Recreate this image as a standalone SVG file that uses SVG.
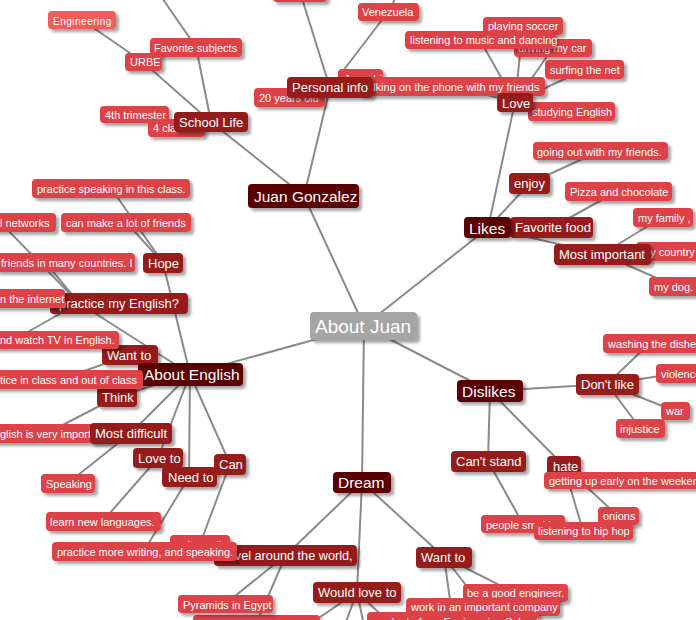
<svg xmlns="http://www.w3.org/2000/svg" width="696" height="620" viewBox="0 0 696 620">
<defs>
<filter id="sh" x="-10%" y="-30%" width="130%" height="180%">
<feDropShadow dx="3" dy="3" stdDeviation="1.4" flood-color="#000" flood-opacity="0.35"/>
</filter>
<style>
.c line{stroke:#8a8a8a;stroke-width:2;stroke-linecap:round}
g.n rect{filter:url(#sh)}
.l4 rect{fill:#f05c5c}
.l3 rect{fill:#dc4246}
.l2 rect{fill:#961b1e}
.l1 rect{fill:#5a0404}
.r rect{fill:#a5a5a5}
text{fill:#fff;font-family:"Liberation Sans",Arial,sans-serif}
.l4 text{font-size:10px;letter-spacing:0.5px}
.l3 text{font-size:11px}
.l2 text{font-size:13px}
.l1 text{font-size:15.5px}
.r text{font-size:19px}
</style>
</defs>
<rect width="696" height="620" fill="#fff"/>
<g class="c" id="connectors">
<line x1="364" y1="326" x2="304" y2="196"/>
<line x1="364" y1="326" x2="488" y2="228"/>
<line x1="364" y1="326" x2="490" y2="391"/>
<line x1="364" y1="326" x2="362" y2="482"/>
<line x1="364" y1="326" x2="190" y2="374"/>
<line x1="304" y1="196" x2="211" y2="122"/>
<line x1="304" y1="196" x2="330" y2="88"/>
<line x1="211" y1="122" x2="196" y2="47"/>
<line x1="211" y1="122" x2="143" y2="62"/>
<line x1="143" y1="62" x2="82" y2="20"/>
<line x1="196" y1="47" x2="160" y2="-5"/>
<line x1="330" y1="88" x2="300" y2="-8"/>
<line x1="330" y1="88" x2="388" y2="12"/>
<line x1="388" y1="12" x2="400" y2="-10"/>
<line x1="488" y1="228" x2="515" y2="102"/>
<line x1="488" y1="228" x2="530" y2="183"/>
<line x1="488" y1="228" x2="602" y2="254"/>
<line x1="515" y1="102" x2="480" y2="40"/>
<line x1="515" y1="102" x2="553" y2="48"/>
<line x1="515" y1="102" x2="523" y2="26"/>
<line x1="515" y1="102" x2="584" y2="70"/>
<line x1="515" y1="102" x2="451" y2="86"/>
<line x1="515" y1="102" x2="571" y2="111"/>
<line x1="530" y1="183" x2="600" y2="151"/>
<line x1="551" y1="228" x2="618" y2="191"/>
<line x1="602" y1="254" x2="663" y2="217"/>
<line x1="602" y1="254" x2="675" y2="286"/>
<line x1="490" y1="391" x2="607" y2="384"/>
<line x1="490" y1="391" x2="488" y2="461"/>
<line x1="490" y1="391" x2="564" y2="466"/>
<line x1="607" y1="384" x2="650" y2="343"/>
<line x1="607" y1="384" x2="680" y2="373"/>
<line x1="607" y1="384" x2="675" y2="411"/>
<line x1="607" y1="384" x2="640" y2="428"/>
<line x1="488" y1="461" x2="523" y2="524"/>
<line x1="564" y1="466" x2="618" y2="516"/>
<line x1="564" y1="466" x2="583" y2="531"/>
<line x1="362" y1="482" x2="286" y2="555"/>
<line x1="362" y1="482" x2="357" y2="592"/>
<line x1="362" y1="482" x2="444" y2="557"/>
<line x1="444" y1="557" x2="515" y2="593"/>
<line x1="444" y1="557" x2="483" y2="607"/>
<line x1="444" y1="557" x2="453" y2="621"/>
<line x1="357" y1="592" x2="301" y2="630"/>
<line x1="357" y1="592" x2="343" y2="630"/>
<line x1="357" y1="592" x2="365" y2="630"/>
<line x1="357" y1="592" x2="397" y2="630"/>
<line x1="286" y1="555" x2="225" y2="604"/>
<line x1="286" y1="555" x2="256" y2="624"/>
<line x1="230" y1="464" x2="200" y2="544"/>
<line x1="189" y1="477" x2="144" y2="551"/>
<line x1="158" y1="458" x2="103" y2="521"/>
<line x1="131" y1="433" x2="68" y2="483"/>
<line x1="190" y1="374" x2="131" y2="433"/>
<line x1="190" y1="374" x2="158" y2="458"/>
<line x1="190" y1="374" x2="189" y2="477"/>
<line x1="190" y1="374" x2="230" y2="464"/>
<line x1="190" y1="374" x2="117" y2="397"/>
<line x1="190" y1="374" x2="130" y2="355"/>
<line x1="190" y1="374" x2="163" y2="263"/>
<line x1="190" y1="374" x2="79" y2="303"/>
<line x1="163" y1="263" x2="111" y2="188"/>
<line x1="163" y1="263" x2="126" y2="222"/>
<line x1="79" y1="303" x2="-5" y2="217"/>
<line x1="79" y1="303" x2="45" y2="262"/>
<line x1="79" y1="303" x2="10" y2="342"/>
<line x1="117" y1="397" x2="47" y2="433"/>
<line x1="130" y1="355" x2="58" y2="380"/>
</g>

<g class="n l3" id="n-top"><rect x="273" y="-16" width="54" height="18" rx="4"/></g>
<g class="n l4" id="n-engineering"><rect x="48" y="11" width="68" height="18" rx="4"/><text x="53" y="24.5">Engineering</text></g>
<g class="n l3" id="n-favsubjects"><rect x="150" y="38" width="92" height="19" rx="4"/><text x="154" y="52">Favorite subjects</text></g>
<g class="n l3" id="n-urbe"><rect x="125" y="53" width="37" height="18" rx="4"/><text x="130" y="66">URBE</text></g>
<g class="n l3" id="n-4th"><rect x="100" y="106" width="69" height="17" rx="4"/><text x="105" y="119">4th trimester</text></g>
<g class="n l3" id="n-4classes"><rect x="148" y="119" width="57" height="18" rx="4"/><text x="153" y="132">4 classes</text></g>
<g class="n l2" id="n-school"><rect x="174" y="112" width="74" height="20" rx="4"/><text x="179" y="127">School Life</text></g>

<g class="n l3" id="n-juanchi"><rect x="338" y="69" width="45" height="18" rx="4"/><text x="344" y="83">Juanchi</text></g>
<g class="n l3" id="n-20"><rect x="254" y="88" width="71" height="19" rx="4"/><text x="259" y="102">20 years old</text></g>
<g class="n l3" id="n-talking"><rect x="358" y="77" width="187" height="19" rx="4"/><text x="364" y="91">talking on the phone with my friends</text></g>
<g class="n l2" id="n-personal"><rect x="287" y="77" width="86" height="21" rx="4"/><text x="292" y="92">Personal info</text></g>
<g class="n l3" id="n-venezuela"><rect x="358" y="3" width="61" height="18" rx="4"/><text x="362" y="16">Venezuela</text></g>

<g class="n l3" id="n-driving"><rect x="514" y="39" width="78" height="18" rx="4"/><text x="518" y="52">driving my car</text></g>
<g class="n l3" id="n-soccer"><rect x="483" y="17" width="80" height="18" rx="4"/><text x="488" y="30">playing soccer</text></g>
<g class="n l3" id="n-listening"><rect x="405" y="31" width="150" height="18" rx="4"/><text x="410" y="44">listening to music and dancing</text></g>
<g class="n l3" id="n-surfing"><rect x="545" y="60" width="79" height="19" rx="4"/><text x="550" y="74">surfing the net</text></g>
<g class="n l3" id="n-studying"><rect x="528" y="102" width="87" height="19" rx="4"/><text x="532" y="116">studying English</text></g>
<g class="n l2" id="n-love"><rect x="497" y="93" width="36" height="19" rx="4"/><text x="502" y="108">Love</text></g>

<g class="n l3" id="n-goingout"><rect x="533" y="142" width="135" height="18" rx="4"/><text x="537" y="156">going out with my friends.</text></g>
<g class="n l2" id="n-enjoy"><rect x="509" y="173" width="41" height="21" rx="4"/><text x="514" y="188">enjoy</text></g>
<g class="n l3" id="n-pizza"><rect x="565" y="182" width="107" height="19" rx="4"/><text x="570" y="196">Pizza and chocolate</text></g>
<g class="n l3" id="n-family"><rect x="633" y="208" width="60" height="19" rx="4"/><text x="638" y="222">my family ,</text></g>
<g class="n l3" id="n-country"><rect x="636" y="242" width="65" height="19" rx="4"/><text x="641" y="256">my country</text></g>
<g class="n l3" id="n-dog"><rect x="649" y="277" width="52" height="19" rx="4"/><text x="654" y="291">my dog.</text></g>
<g class="n l2" id="n-food"><rect x="510" y="217" width="83" height="21" rx="4"/><text x="515" y="232">Favorite food</text></g>
<g class="n l1" id="n-likes"><rect x="464" y="217" width="47" height="21" rx="4"/><text x="469" y="234">Likes</text></g>
<g class="n l2" id="n-mostimportant"><rect x="554" y="244" width="97" height="21" rx="4"/><text x="559" y="259">Most important</text></g>

<g class="n l3" id="n-washing"><rect x="603" y="334" width="100" height="19" rx="4"/><text x="608" y="348">washing the dishes</text></g>
<g class="n l3" id="n-violence"><rect x="656" y="364" width="45" height="19" rx="4"/><text x="661" y="378">violence</text></g>
<g class="n l3" id="n-war"><rect x="661" y="402" width="29" height="18" rx="4"/><text x="666" y="415">war</text></g>
<g class="n l3" id="n-injustice"><rect x="616" y="419" width="49" height="19" rx="4"/><text x="620" y="433">injustice</text></g>
<g class="n l2" id="n-dontlike"><rect x="576" y="374" width="63" height="21" rx="4"/><text x="581" y="389">Don't like</text></g>
<g class="n l1" id="n-dislikes"><rect x="457" y="380" width="66" height="22" rx="4"/><text x="462" y="397">Dislikes</text></g>
<g class="n l2" id="n-cantstand"><rect x="451" y="451" width="75" height="21" rx="4"/><text x="456" y="466">Can't stand</text></g>
<g class="n l2" id="n-hate"><rect x="547" y="456" width="34" height="19" rx="4"/><text x="553" y="471">hate</text></g>
<g class="n l3" id="n-gettingup"><rect x="544" y="472" width="160" height="17" rx="4"/><text x="549" y="485">getting up early on the weekend</text></g>
<g class="n l3" id="n-onions"><rect x="598" y="507" width="41" height="18" rx="4"/><text x="603" y="520">onions</text></g>
<g class="n l3" id="n-smoking"><rect x="481" y="515" width="84" height="18" rx="4"/><text x="486" y="529">people smoking</text></g>
<g class="n l3" id="n-hiphop"><rect x="534" y="522" width="99" height="18" rx="4"/><text x="538" y="535">listening to hip hop</text></g>

<g class="n l3" id="n-engineer"><rect x="463" y="584" width="105" height="18" rx="4"/><text x="467" y="597">be a good engineer.</text></g>
<g class="n l3" id="n-company"><rect x="406" y="598" width="154" height="18" rx="4"/><text x="411" y="611">work in an important company</text></g>
<g class="n l3" id="n-graduate"><rect x="367" y="612" width="172" height="18" rx="4"/><text x="372" y="625.5">graduate from Engineering School</text></g>
<g class="n l2" id="n-wantto-d"><rect x="416" y="547" width="56" height="21" rx="4"/><text x="421" y="562">Want to</text></g>
<g class="n l2" id="n-wouldlove"><rect x="313" y="582" width="88" height="21" rx="4"/><text x="318" y="597">Would love to</text></g>
<g class="n l3" id="n-low"><rect x="193" y="615" width="127" height="18" rx="4"/></g>
<g class="n l3" id="n-pyramids"><rect x="178" y="595" width="95" height="18" rx="4"/><text x="183" y="609">Pyramids in Egypt</text></g>
<g class="n l3" id="n-writewell"><rect x="170" y="535" width="60" height="18" rx="4"/><text x="176" y="548.5">write well</text></g>
<g class="n l2" id="n-travel"><rect x="214" y="545" width="143" height="21" rx="4"/><text x="220" y="560" style="font-size:12.7px">travel around the world,</text></g>
<g class="n l3" id="n-practicemore"><rect x="52" y="542" width="185" height="19" rx="4"/><text x="57" y="556">practice more writing, and speaking.</text></g>

<g class="n l2" id="n-loveto"><rect x="133" y="448" width="50" height="20" rx="4"/><text x="138" y="463">Love to</text></g>
<g class="n l2" id="n-needto"><rect x="162" y="467" width="55" height="20" rx="4"/><text x="168" y="482">Need to</text></g>
<g class="n l2" id="n-can"><rect x="214" y="454" width="32" height="21" rx="4"/><text x="219" y="469">Can</text></g>
<g class="n l3" id="n-speaking"><rect x="41" y="474" width="54" height="19" rx="4"/><text x="46" y="488">Speaking</text></g>
<g class="n l3" id="n-learn"><rect x="46" y="512" width="115" height="19" rx="4"/><text x="50" y="526">learn new languages.</text></g>
<g class="n l3" id="n-important"><rect x="-18" y="424" width="130" height="19" rx="4"/><text x="0" y="438">glish is very important</text></g>
<g class="n l2" id="n-mostdifficult"><rect x="90" y="423" width="82" height="21" rx="4"/><text x="95" y="438">Most difficult</text></g>
<g class="n l2" id="n-think"><rect x="97" y="387" width="40" height="20" rx="4"/><text x="102" y="402">Think</text></g>
<g class="n l2" id="n-wantto-e"><rect x="102" y="345" width="56" height="20" rx="4"/><text x="107" y="360">Want to</text></g>
<g class="n l1" id="n-aboutenglish"><rect x="138" y="363" width="105" height="23" rx="4"/><text x="144" y="380">About English</text></g>
<g class="n l3" id="n-inclass"><rect x="-26" y="370" width="169" height="19" rx="4"/><text x="0" y="384">tice in class and out of class</text></g>
<g class="n l3" id="n-watchtv"><rect x="-10" y="331" width="129" height="18" rx="4"/><text x="0" y="344">nd watch TV in English.</text></g>
<g class="n l2" id="n-practicemy"><rect x="50" y="293" width="138" height="21" rx="4"/><text x="59" y="308">practice my English?</text></g>
<g class="n l3" id="n-internet"><rect x="-10" y="289" width="75" height="19" rx="4"/><text x="0" y="303">n the internet</text></g>
<g class="n l3" id="n-countries"><rect x="-5" y="253" width="140" height="19" rx="4"/><text x="1" y="267">friends in many countries. I</text></g>
<g class="n l3" id="n-networks"><rect x="-10" y="213" width="66" height="19" rx="4"/><text x="0" y="227">l networks</text></g>
<g class="n l3" id="n-makefriends"><rect x="61" y="213" width="130" height="19" rx="4"/><text x="66" y="227">can make a lot of friends</text></g>
<g class="n l3" id="n-speakclass"><rect x="32" y="179" width="158" height="19" rx="4"/><text x="37" y="193">practice speaking in this class.</text></g>
<g class="n l2" id="n-hope"><rect x="143" y="253" width="40" height="20" rx="4"/><text x="148" y="268">Hope</text></g>

<g class="n l1" id="n-juan"><rect x="248" y="184" width="111" height="24" rx="4"/><text x="254" y="202">Juan Gonzalez</text></g>
<g class="n l1" id="n-dream"><rect x="333" y="472" width="58" height="21" rx="4"/><text x="338" y="488">Dream</text></g>
<g class="n r" id="n-root"><rect x="310" y="312" width="107" height="28" rx="4"/><text x="315" y="333">About Juan</text></g>
</svg>
